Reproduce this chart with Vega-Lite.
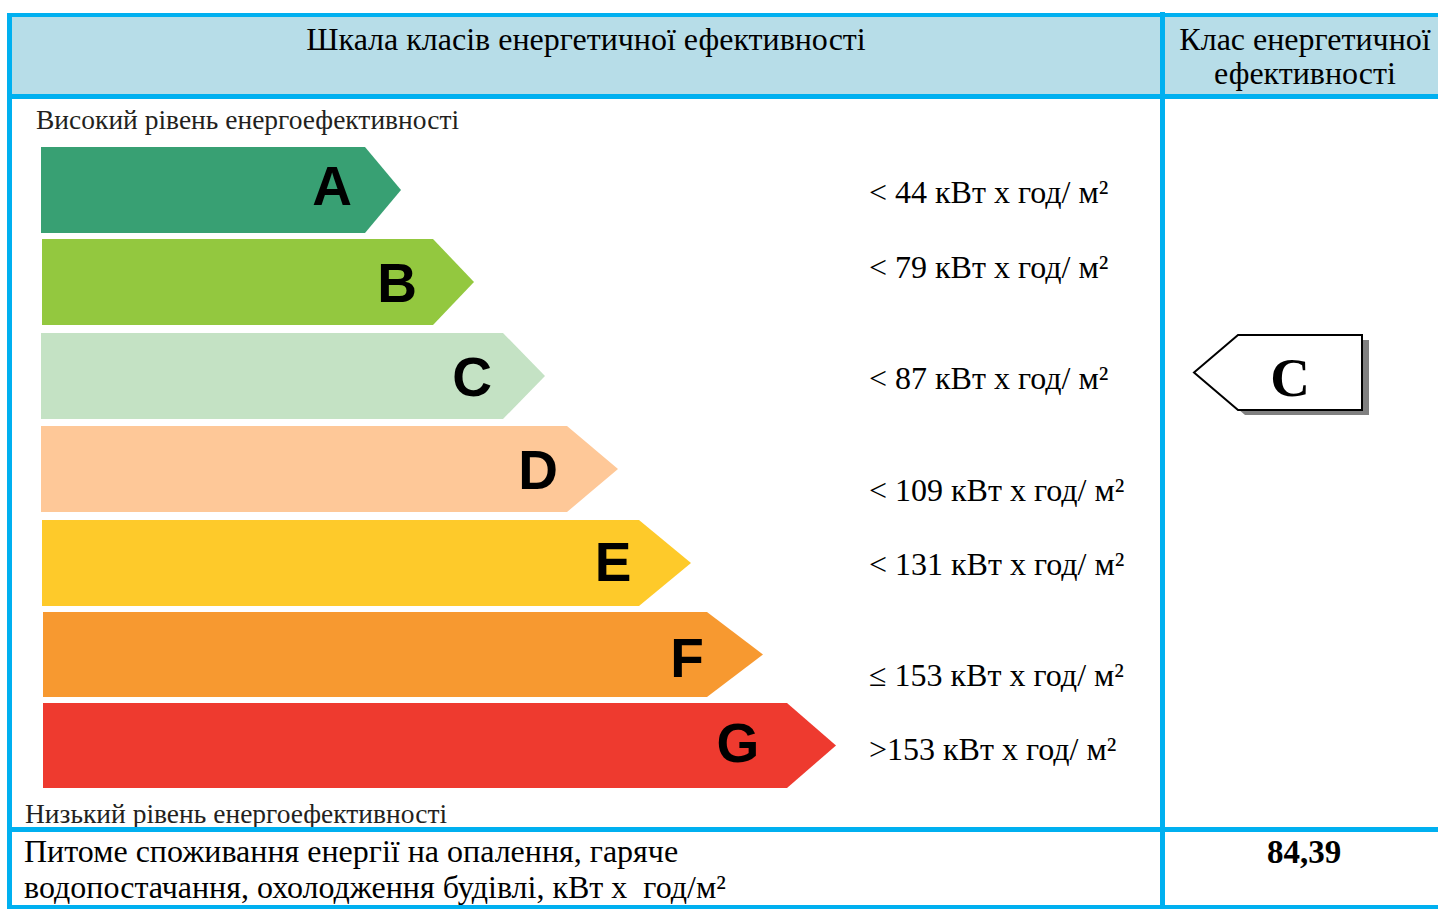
{
  "$schema": "https://vega.github.io/schema/vega-lite/v6.json",
  "width": 1438,
  "height": 909,
  "padding": 0,
  "autosize": {"type": "fit", "contains": "padding"},
  "background": "white",
  "config": {"view": {"stroke": null}},
  "datasets": {
    "cells": [
      {"part": "header", "x": 10, "x2": 1438, "y": 17, "y2": 94}
    ],
    "borders": [
      {"part": "top", "x": 7, "x2": 1438, "y": 13, "y2": 17},
      {"part": "headerBottom", "x": 7, "x2": 1438, "y": 94, "y2": 99},
      {"part": "bodyBottom", "x": 7, "x2": 1438, "y": 827, "y2": 832},
      {"part": "bottom", "x": 7, "x2": 1438, "y": 905, "y2": 909},
      {"part": "left", "x": 7, "x2": 12, "y": 13, "y2": 909},
      {"part": "divider", "x": 1160, "x2": 1165, "y": 12, "y2": 909}
    ],
    "arrows": [
      {"cls": "A", "x": 41, "y": 147, "y2": 233},
      {"cls": "A", "x": 365, "y": 147, "y2": 233},
      {"cls": "A", "x": 401, "y": 190, "y2": 190},
      {"cls": "B", "x": 42, "y": 239, "y2": 325},
      {"cls": "B", "x": 433, "y": 239, "y2": 325},
      {"cls": "B", "x": 474, "y": 282, "y2": 282},
      {"cls": "C", "x": 41, "y": 333, "y2": 419},
      {"cls": "C", "x": 503, "y": 333, "y2": 419},
      {"cls": "C", "x": 545, "y": 376, "y2": 376},
      {"cls": "D", "x": 41, "y": 426, "y2": 512},
      {"cls": "D", "x": 567, "y": 426, "y2": 512},
      {"cls": "D", "x": 618, "y": 469, "y2": 469},
      {"cls": "E", "x": 42, "y": 520, "y2": 606},
      {"cls": "E", "x": 639, "y": 520, "y2": 606},
      {"cls": "E", "x": 691, "y": 563, "y2": 563},
      {"cls": "F", "x": 43, "y": 612, "y2": 697},
      {"cls": "F", "x": 707, "y": 612, "y2": 697},
      {"cls": "F", "x": 763, "y": 654.5, "y2": 654.5},
      {"cls": "G", "x": 43, "y": 703, "y2": 788},
      {"cls": "G", "x": 787, "y": 703, "y2": 788},
      {"cls": "G", "x": 836, "y": 745.5, "y2": 745.5}
    ],
    "letters": [
      {"cls": "A", "x": 332, "y": 205},
      {"cls": "B", "x": 397, "y": 302},
      {"cls": "C", "x": 472, "y": 396},
      {"cls": "D", "x": 538, "y": 489},
      {"cls": "E", "x": 613, "y": 581},
      {"cls": "F", "x": 687, "y": 677},
      {"cls": "G", "x": 738, "y": 762}
    ],
    "ranges": [
      {"cls": "A", "label": "< 44 кВт х год/ м²", "x": 869, "y": 203},
      {"cls": "B", "label": "< 79 кВт х год/ м²", "x": 869, "y": 278},
      {"cls": "C", "label": "< 87 кВт х год/ м²", "x": 869, "y": 389},
      {"cls": "D", "label": "< 109 кВт х год/ м²", "x": 869, "y": 501},
      {"cls": "E", "label": "< 131 кВт х год/ м²", "x": 869, "y": 575},
      {"cls": "F", "label": "≤ 153 кВт х год/ м²", "x": 869, "y": 686},
      {"cls": "G", "label": ">153 кВт х год/ м²", "x": 869, "y": 760}
    ],
    "headers": [
      {"label": "Шкала класів енергетичної ефективності", "x": 586, "y": 50},
      {"label": "Клас енергетичної", "x": 1305, "y": 50},
      {"label": "ефективності", "x": 1305, "y": 84}
    ],
    "levels": [
      {"label": "Високий рівень енергоефективності", "x": 36, "y": 129},
      {"label": "Низький рівень енергоефективності", "x": 25, "y": 823}
    ],
    "footer": [
      {"label": "Питоме споживання енергії на опалення, гаряче", "x": 24, "y": 862},
      {"label": "водопостачання, охолодження будівлі, кВт х\u00a0 год/м²", "x": 24, "y": 898}
    ],
    "value": [
      {"label": "84,39", "x": 1304, "y": 863}
    ],
    "indicator": [
      {"cls": "C", "x": 1278, "y": 372.5, "sx": 1285, "sy": 377.5, "tx": 1290, "ty": 396}
    ]
  },
  "layer": [
    {
      "data": {"name": "cells"},
      "mark": {"type": "rect", "color": "#B7DDE8"},
      "encoding": {
        "x": {"field": "x", "type": "quantitative", "scale": {"domain": [0, 1438], "nice": false, "zero": false}, "axis": null},
        "x2": {"field": "x2"},
        "y": {"field": "y", "type": "quantitative", "scale": {"domain": [0, 909], "nice": false, "zero": false, "reverse": true}, "axis": null},
        "y2": {"field": "y2"}
      }
    },
    {
      "data": {"name": "arrows"},
      "mark": {"type": "area", "orient": "vertical", "opacity": 1},
      "encoding": {
        "x": {"field": "x", "type": "quantitative", "scale": {"domain": [0, 1438], "nice": false, "zero": false}, "axis": null},
        "y": {"field": "y", "type": "quantitative", "scale": {"domain": [0, 909], "nice": false, "zero": false, "reverse": true}, "axis": null},
        "y2": {"field": "y2"},
        "color": {"field": "cls", "type": "nominal", "legend": null,
          "scale": {"domain": ["A", "B", "C", "D", "E", "F", "G"],
                    "range": ["#38A073", "#93C83F", "#C4E2C4", "#FEC898", "#FECA2A", "#F79930", "#EE3A2F"]}}
      }
    },
    {
      "data": {"name": "letters"},
      "mark": {"type": "text", "font": "Liberation Sans", "fontWeight": "bold", "fontSize": 55, "align": "center", "baseline": "alphabetic", "color": "#000000"},
      "encoding": {
        "x": {"field": "x", "type": "quantitative", "scale": {"domain": [0, 1438], "nice": false, "zero": false}, "axis": null},
        "y": {"field": "y", "type": "quantitative", "scale": {"domain": [0, 909], "nice": false, "zero": false, "reverse": true}, "axis": null},
        "text": {"field": "cls"}
      }
    },
    {
      "data": {"name": "ranges"},
      "mark": {"type": "text", "font": "Liberation Serif", "fontSize": 32, "align": "left", "baseline": "alphabetic", "color": "#000000"},
      "encoding": {
        "x": {"field": "x", "type": "quantitative", "scale": {"domain": [0, 1438], "nice": false, "zero": false}, "axis": null},
        "y": {"field": "y", "type": "quantitative", "scale": {"domain": [0, 909], "nice": false, "zero": false, "reverse": true}, "axis": null},
        "text": {"field": "label"}
      }
    },
    {
      "data": {"name": "headers"},
      "mark": {"type": "text", "font": "Liberation Serif", "fontSize": 32, "align": "center", "baseline": "alphabetic", "color": "#000000"},
      "encoding": {
        "x": {"field": "x", "type": "quantitative", "scale": {"domain": [0, 1438], "nice": false, "zero": false}, "axis": null},
        "y": {"field": "y", "type": "quantitative", "scale": {"domain": [0, 909], "nice": false, "zero": false, "reverse": true}, "axis": null},
        "text": {"field": "label"}
      }
    },
    {
      "data": {"name": "levels"},
      "mark": {"type": "text", "font": "Liberation Serif", "fontSize": 27.5, "align": "left", "baseline": "alphabetic", "color": "#231F20"},
      "encoding": {
        "x": {"field": "x", "type": "quantitative", "scale": {"domain": [0, 1438], "nice": false, "zero": false}, "axis": null},
        "y": {"field": "y", "type": "quantitative", "scale": {"domain": [0, 909], "nice": false, "zero": false, "reverse": true}, "axis": null},
        "text": {"field": "label"}
      }
    },
    {
      "data": {"name": "footer"},
      "mark": {"type": "text", "font": "Liberation Serif", "fontSize": 32, "align": "left", "baseline": "alphabetic", "color": "#000000"},
      "encoding": {
        "x": {"field": "x", "type": "quantitative", "scale": {"domain": [0, 1438], "nice": false, "zero": false}, "axis": null},
        "y": {"field": "y", "type": "quantitative", "scale": {"domain": [0, 909], "nice": false, "zero": false, "reverse": true}, "axis": null},
        "text": {"field": "label"}
      }
    },
    {
      "data": {"name": "value"},
      "mark": {"type": "text", "font": "Liberation Serif", "fontWeight": "bold", "fontSize": 33, "align": "center", "baseline": "alphabetic", "color": "#000000"},
      "encoding": {
        "x": {"field": "x", "type": "quantitative", "scale": {"domain": [0, 1438], "nice": false, "zero": false}, "axis": null},
        "y": {"field": "y", "type": "quantitative", "scale": {"domain": [0, 909], "nice": false, "zero": false, "reverse": true}, "axis": null},
        "text": {"field": "label"}
      }
    },
    {
      "data": {"name": "indicator"},
      "mark": {"type": "point", "shape": "M-1,0L-0.476,-0.446L1,-0.446L1,0.446L-0.476,0.446Z", "size": 28224, "filled": true, "fill": "#808080", "strokeWidth": 0, "opacity": 1},
      "encoding": {
        "x": {"field": "sx", "type": "quantitative", "scale": {"domain": [0, 1438], "nice": false, "zero": false}, "axis": null},
        "y": {"field": "sy", "type": "quantitative", "scale": {"domain": [0, 909], "nice": false, "zero": false, "reverse": true}, "axis": null}
      }
    },
    {
      "data": {"name": "indicator"},
      "mark": {"type": "point", "shape": "M-1,0L-0.476,-0.446L1,-0.446L1,0.446L-0.476,0.446Z", "size": 28224, "filled": true, "fill": "#FFFFFF", "stroke": "#000000", "strokeWidth": 2, "opacity": 1},
      "encoding": {
        "x": {"field": "x", "type": "quantitative", "scale": {"domain": [0, 1438], "nice": false, "zero": false}, "axis": null},
        "y": {"field": "y", "type": "quantitative", "scale": {"domain": [0, 909], "nice": false, "zero": false, "reverse": true}, "axis": null}
      }
    },
    {
      "data": {"name": "indicator"},
      "mark": {"type": "text", "font": "Liberation Serif", "fontWeight": "bold", "fontSize": 55, "align": "center", "baseline": "alphabetic", "color": "#000000"},
      "encoding": {
        "x": {"field": "tx", "type": "quantitative", "scale": {"domain": [0, 1438], "nice": false, "zero": false}, "axis": null},
        "y": {"field": "ty", "type": "quantitative", "scale": {"domain": [0, 909], "nice": false, "zero": false, "reverse": true}, "axis": null},
        "text": {"field": "cls"}
      }
    },
    {
      "data": {"name": "borders"},
      "mark": {"type": "rect", "color": "#00B0F0"},
      "encoding": {
        "x": {"field": "x", "type": "quantitative", "scale": {"domain": [0, 1438], "nice": false, "zero": false}, "axis": null},
        "x2": {"field": "x2"},
        "y": {"field": "y", "type": "quantitative", "scale": {"domain": [0, 909], "nice": false, "zero": false, "reverse": true}, "axis": null},
        "y2": {"field": "y2"}
      }
    }
  ]
}
